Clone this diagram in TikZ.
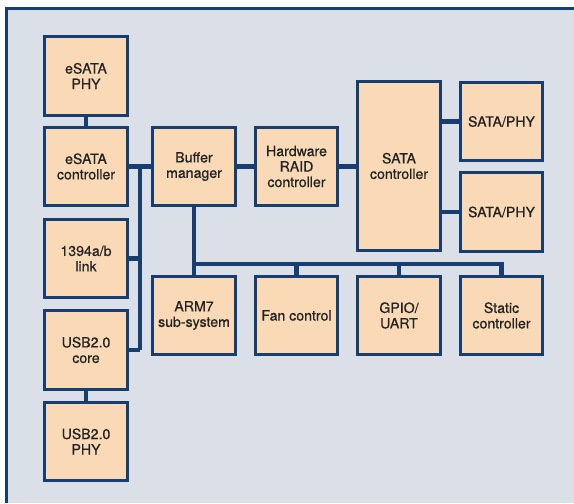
\documentclass[tikz,border=0pt]{standalone}
\usepackage{fontspec}
\setmainfont{TeX Gyre Heros}
\newfontfamily\blockfont[FakeBold=0.6]{TeX Gyre Heros}
\definecolor{framecol}{RGB}{22,62,112}
\definecolor{boxfill}{RGB}{249,217,182}
\definecolor{backcol}{RGB}{219,223,232}
\definecolor{textcol}{RGB}{35,35,35}
\tikzset{
	block/.style = {draw=framecol, fill=boxfill, line width=2.2pt, minimum width=62pt, minimum height=59pt, inner sep=1pt, align=center, text=textcol, font=\blockfont\fontsize{10.6}{11.6}\selectfont},
	bus/.style = {draw=framecol, line width=3.6pt}
}
\begin{document}
	\begin{tikzpicture}[x=0.75pt, y=-0.75pt]
		\useasboundingbox (0,0) rectangle (574,503);
		\fill[white] (0,0) rectangle (574,503);
		\fill[backcol] (6.5,8.7) rectangle (574,503);
		\draw[framecol, line width=2pt] (6.5,503) -- (6.5,8.7) -- (574,8.7);
		
		\node[block] (esataphy) at (86,76) {eSATA\\PHY};
		\node[block] (esatactl) at (86,166.5) {eSATA\\controller};
		\node[block] (link) at (86,258.5) {1394a/b\\link};
		\node[block] (usbcore) at (86,350) {USB2.0\\core};
		\node[block] (usbphy) at (86,441.5) {USB2.0\\PHY};
		
		\node[block] (buffer) at (194,166.5) {Buffer\\manager};
		\node[block] (raid) at (296.5,166.5) {Hardware\\RAID\\controller};
		\node[block, minimum height=127pt] (satactl) at (399,166) {SATA\\controller};
		\node[block] (sataphya) at (501.5,121.5) {SATA/PHY};
		\node[block] (sataphyb) at (501.5,212) {SATA/PHY};
		
		\node[block] (arm) at (194,315.5) {ARM7\\sub-system};
		\node[block] (fan) at (296.5,315.5) {Fan control};
		\node[block] (gpio) at (399,315.5) {GPIO/\\UART};
		\node[block] (static) at (501.5,315.5) {Static\\controller};
		
		\coordinate (lbustop) at (140,166.5);
		\coordinate (lbusbot) at (140,350);
		\coordinate (bbus) at (194,264);
		
		\draw[bus] (esataphy) -- (esatactl);
		\draw[bus] (usbcore) -- (usbphy);
		\draw[bus] (esatactl) -- (buffer);
		\draw[bus] (lbustop) -- (lbusbot);
		\draw[bus] (link.east) -- (link.east -| lbustop);
		\draw[bus] (usbcore.east) -- (lbusbot);
		
		\draw[bus] (buffer) -- (raid);
		\draw[bus] (raid.east) -- (raid.east -| satactl.west);
		\draw[bus] (sataphya.west -| satactl.east) -- (sataphya.west);
		\draw[bus] (sataphyb.west -| satactl.east) -- (sataphyb.west);
		
		\draw[bus] (buffer) -- (arm);
		\draw[bus] (bbus) -| (static.north);
		\draw[bus] (fan.north |- bbus) -- (fan.north);
		\draw[bus] (gpio.north |- bbus) -- (gpio.north);
	\end{tikzpicture}
\end{document}
